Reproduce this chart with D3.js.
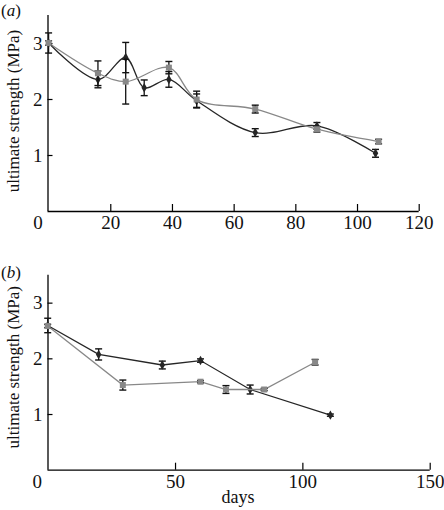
<!DOCTYPE html>
<html>
<head>
<meta charset="utf-8">
<script src="https://cdn.jsdelivr.net/npm/d3@7"></script>
<style>
  html, body { margin: 0; padding: 0; background: #fff; }
  svg { display: block; }
  svg text { font-family: "Liberation Serif", "Times New Roman", serif !important; fill: #111; }
</style>
</head>
<body>
<svg id="chart" width="444" height="510"></svg>
<script>
// ---------- Data ----------
// Panel (a)
const aDaysDark = [0, 16, 25, 31, 39, 48, 67, 87, 106];
const aValDark  = [3.00, 2.35, 2.74, 2.20, 2.35, 1.97, 1.40, 1.52, 1.03];
const aErrDark  = [0.18, 0.15, 0.27, 0.14, 0.14, 0.12, 0.07, 0.06, 0.07];
const aDaysGray = [0, 16, 25, 39, 48, 67, 87, 107];
const aValGray  = [3.00, 2.46, 2.31, 2.56, 1.99, 1.82, 1.46, 1.24];
const aErrGray  = [0.04, 0.22, 0.40, 0.11, 0.15, 0.07, 0.05, 0.04];
const aXTicks = [0, 20, 40, 60, 80, 100, 120];
const aYTicks = [1, 2, 3];

// Panel (b)
const bDaysDark = [0, 20, 45, 60, 79.5, 111];
const bValDark  = [2.59, 2.07, 1.88, 1.96, 1.44, 0.98];
const bErrDark  = [0.13, 0.10, 0.07, 0.03, 0.08, 0.02];
const bDaysGray = [0, 29.5, 60, 70, 85, 105];
const bValGray  = [2.58, 1.52, 1.58, 1.44, 1.44, 1.93];
const bErrGray  = [0.03, 0.09, 0.02, 0.07, 0.02, 0.05];
const bXTicks = [0, 50, 100, 150];
const bYTicks = [1, 2, 3];

const DARK = "#262626";
const GRAY = "#888888";

const svg = d3.select("#chart");

function zip(days, vals, errs) {
  return days.map((d, i) => ({ x: d, y: vals[i], e: errs[i] }));
}

function panel(opts) {
  const g = svg.append("g");
  const x = d3.scaleLinear().domain(opts.xDomain).range(opts.xRange);
  const y = d3.scaleLinear().domain([0, 3.5]).range(opts.yRange);
  const axisX = 47.5;

  // x axis (ticks inward)
  const xa = g.append("g")
    .attr("transform", `translate(0,${opts.yRange[0]})`)
    .call(d3.axisBottom(x).tickValues(opts.xTicks).tickFormat(d3.format("d"))
      .tickSize(-7).tickSizeOuter(0).tickPadding(5));
  xa.attr("font-family", null);
  xa.select(".domain").attr("d", `M${axisX},0.5H${opts.xRange[1]}`).attr("stroke", "#000").attr("stroke-width", 1.3);
  xa.selectAll(".tick line").attr("stroke", "#000").attr("stroke-width", 1.2);
  xa.selectAll(".tick text").attr("font-size", 19).attr("fill", "#111")
    .attr("dx", d => d === 0 ? -11 : 0);
  xa.selectAll(".tick").filter(d => d === 0).select("line").remove();

  // y axis (ticks inward)
  const ya = g.append("g")
    .attr("transform", `translate(${axisX},0)`)
    .call(d3.axisLeft(y).tickValues(opts.yTicks).tickFormat(d3.format("d"))
      .tickSize(-5).tickSizeOuter(0).tickPadding(5));
  ya.attr("font-family", null);
  ya.select(".domain").attr("d", `M0.5,${opts.yRange[1]}V${opts.yRange[0]}`).attr("stroke", "#000").attr("stroke-width", 1.3);
  ya.selectAll(".tick line").attr("stroke", "#000").attr("stroke-width", 1.2);
  ya.selectAll(".tick text").attr("font-size", 19).attr("fill", "#111");

  // y label
  const cy = (opts.yRange[0] + opts.yRange[1]) / 2 + opts.labelShift;
  g.append("text")
    .attr("transform", `translate(19,${cy}) rotate(-90)`)
    .attr("text-anchor", "middle")
    .attr("font-size", 17)
    .text("ultimate strength (MPa)");

  // panel letter
  const t = g.append("text").attr("x", 1).attr("y", opts.letterY).attr("font-size", 17);
  t.append("tspan").text("(");
  t.append("tspan").attr("font-style", "italic").text(opts.letter);
  t.append("tspan").text(")");

  const line = d3.line().x(d => x(d.x)).y(d => y(d.y)).curve(opts.curve);

  function series(data, color, shape) {
    const s = g.append("g");
    s.append("path").datum(data).attr("d", line)
      .attr("fill", "none").attr("stroke", color).attr("stroke-width", 1.3);
    const eb = s.selectAll(".eb").data(data).join("g");
    eb.append("line").attr("x1", d => x(d.x)).attr("x2", d => x(d.x))
      .attr("y1", d => y(d.y - d.e)).attr("y2", d => y(d.y + d.e))
      .attr("stroke", "#111").attr("stroke-width", 1.3);
    [-1, 1].forEach(sg => {
      eb.append("line").attr("x1", d => x(d.x) - 3.5).attr("x2", d => x(d.x) + 3.5)
        .attr("y1", d => y(d.y + sg * d.e)).attr("y2", d => y(d.y + sg * d.e))
        .attr("stroke", "#111").attr("stroke-width", 1.4);
    });
    if (shape === "square") {
      s.selectAll(".m").data(data).join("rect")
        .attr("x", d => x(d.x) - 3).attr("y", d => y(d.y) - 3)
        .attr("width", 6).attr("height", 6).attr("fill", color);
    } else {
      s.selectAll(".m").data(data).join("path")
        .attr("d", d3.symbol(d3.symbolDiamond, 26))
        .attr("transform", d => `translate(${x(d.x)},${y(d.y)})`)
        .attr("fill", color);
    }
  }
  series(opts.dark, DARK, "diamond");
  series(opts.gray, GRAY, "square");

  if (opts.xLabel) {
    g.append("text").attr("x", opts.xLabelX).attr("y", opts.xLabelY)
      .attr("text-anchor", "middle").attr("font-size", 18).text(opts.xLabel);
  }
}

panel({
  xDomain: [0, 120], xRange: [48.6, 418.7], yRange: [211, 15],
  xTicks: aXTicks, yTicks: aYTicks, letter: "a", letterY: 16, labelShift: -2,
  curve: d3.curveCatmullRom.alpha(0.5),
  dark: zip(aDaysDark, aValDark, aErrDark),
  gray: zip(aDaysGray, aValGray, aErrGray)
});

panel({
  xDomain: [0, 150], xRange: [47.7, 429.7], yRange: [469.7, 274.8],
  xTicks: bXTicks, yTicks: bYTicks, letter: "b", letterY: 278, labelShift: -5,
  curve: d3.curveLinear,
  dark: zip(bDaysDark, bValDark, bErrDark),
  gray: zip(bDaysGray, bValGray, bErrGray),
  xLabel: "days", xLabelX: 238, xLabelY: 503
});
</script>
</body>
</html>
